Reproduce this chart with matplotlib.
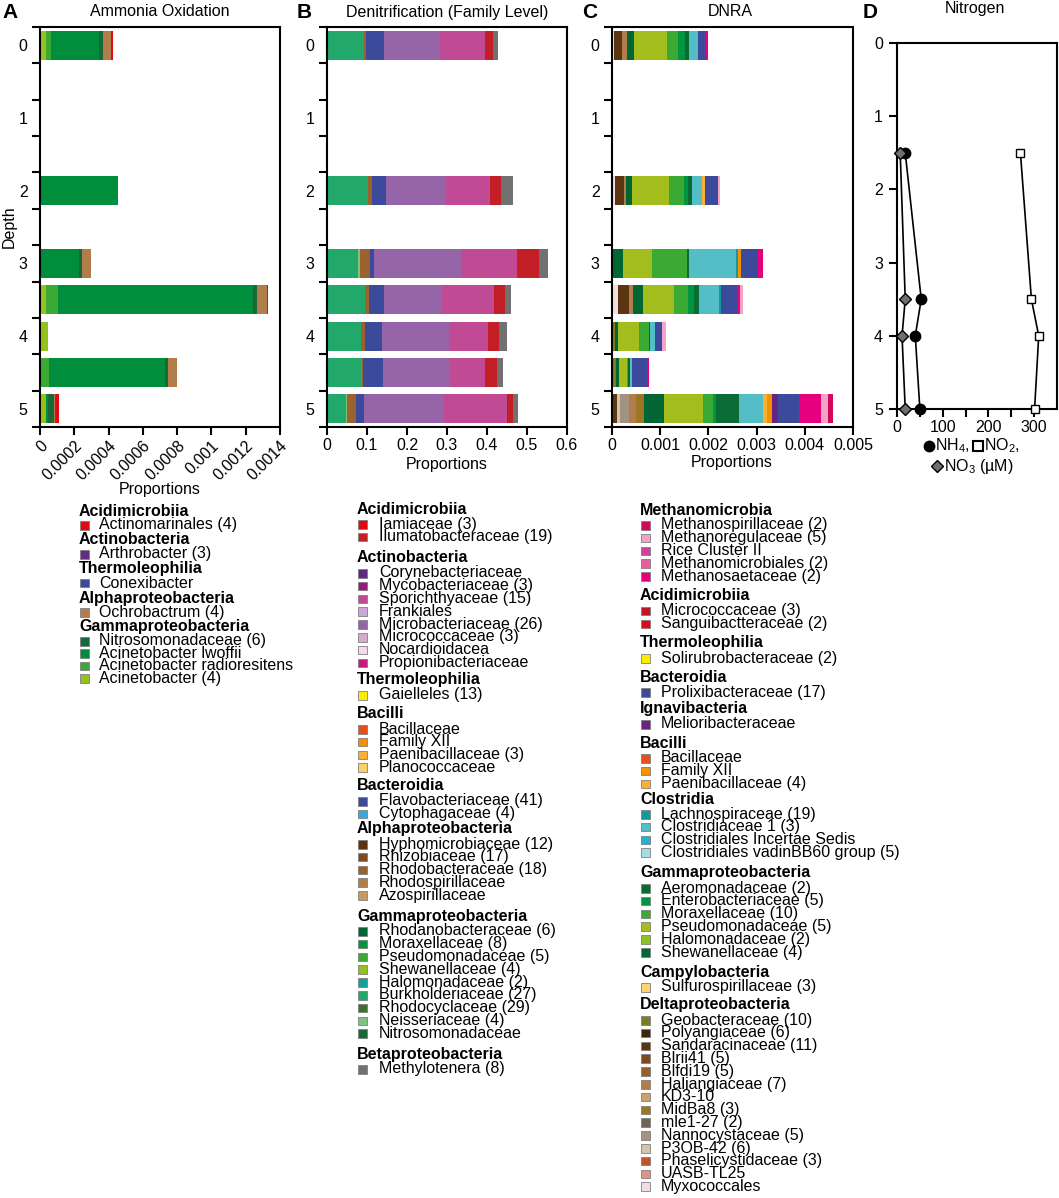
import numpy as np
import matplotlib
matplotlib.use("Agg")
import matplotlib.pyplot as plt
from matplotlib.patches import Rectangle
from matplotlib.lines import Line2D

plt.rcParams['font.family'] = ['Liberation Sans', 'DejaVu Sans']
plt.rcParams['font.size'] = 11.5
plt.rcParams['mathtext.fontset'] = 'custom'
plt.rcParams['mathtext.rm'] = 'Liberation Sans'
plt.rcParams['mathtext.default'] = 'regular'

W, H = 1059, 1198

# ---------------- data ----------------
depths = [0, 2, 3, 3.5, 4, 4.5, 5]

# A - ammonia oxidation, stacking order left -> right
amo = {
    "Acinetobacter (4)":           [3.3e-5, 0, 0, 3.3e-5, 4.5e-5, 0, 3.5e-5],
    "Acinetobacter radioresitens": [2.9e-5, 0, 0, 7.0e-5, 0, 5.2e-5, 0],
    "Acinetobacter lwoffii":       [2.84e-4, 4.53e-4, 2.27e-4, 1.137e-3, 0, 6.8e-4, 1.0e-5],
    "Nitrosomonadaceae (6)":       [2.1e-5, 0, 1.75e-5, 2.7e-5, 0, 1.6e-5, 3.7e-5],
    "Ochrobactrum (4)":            [4.9e-5, 0, 5.25e-5, 5.8e-5, 0, 4.9e-5, 0.8e-5],
    "Conexibacter":                [0, 0, 0, 0, 0, 0.4e-5, 0.6e-5],
    "Actinomarinales (4)":         [0.8e-5, 0, 0, 0.6e-5, 0, 0, 1.4e-5],
}

# B - denitrification
denit = {
    "Burkholderiaceae (27)":   [0.0917, 0.1025, 0.0775, 0.0958, 0.0858, 0.0875, 0.048],
    "Neisseriaceae (4)":       [0, 0, 0.004, 0, 0, 0, 0.003],
    "Rhodobacteraceae (18)":   [0.0067, 0.01, 0.025, 0.0083, 0.0083, 0.0025, 0.021],
    "Flavobacteriaceae (41)":  [0.044, 0.034, 0.01, 0.0375, 0.0425, 0.05, 0.021],
    "Microbacteriaceae (26)":  [0.141, 0.15, 0.2175, 0.145, 0.168, 0.1675, 0.199],
    "Sporichthyaceae (15)":    [0.1125, 0.11, 0.1417, 0.13, 0.098, 0.0875, 0.159],
    "Mycobacteriaceae (3)":    [0, 0, 0, 0, 0, 0, 0.002],
    "Ilumatobacteraceae (19)": [0.02, 0.0275, 0.0533, 0.0275, 0.0267, 0.029, 0.0117],
    "Methylotenera (8)":       [0.0117, 0.031, 0.024, 0.0167, 0.02, 0.0167, 0.0117],
}

# C - DNRA
dnra = {
    "Myxococcales":            [0.5e-4, 0.7e-4, 0, 1.2e-4, 0, 0, 0],
    "Sandaracinaceae (11)":    [1.6e-4, 1.8e-4, 0, 2.4e-4, 0, 0, 1.04e-4],
    "P3OB-42 (6)":             [0, 0, 0, 0, 0, 0, 0.55e-4],
    "Nannocystaceae (5)":      [0, 0, 0, 0, 0, 0, 1.94e-4],
    "Haliangiaceae (7)":       [0.97e-4, 0.5e-4, 0, 0.69e-4, 0, 0, 1.52e-4],
    "MidBa8 (3)":              [0, 0, 0, 0, 0, 0, 1.6e-4],
    "Geobacteraceae (10)":     [0, 0, 0, 0, 0.55e-4, 0.9e-4, 0],
    "Shewanellaceae (4)":      [1.46e-4, 1.25e-4, 2.29e-4, 2.2e-4, 0.69e-4, 0.49e-4, 4.09e-4],
    "Pseudomonadaceae (5)":    [6.93e-4, 7.6e-4, 6.1e-4, 6.45e-4, 4.3e-4, 1.73e-4, 8.18e-4],
    "Moraxellaceae (10)":      [2.2e-4, 3.05e-4, 7.07e-4, 2.9e-4, 2.08e-4, 0.2e-4, 2.08e-4],
    "Enterobacteriaceae (5)":  [1.4e-4, 0.9e-4, 0, 1.25e-4, 0, 0, 0.49e-4],
    "Aeromonadaceae (2)":      [0.83e-4, 0.9e-4, 0.55e-4, 0.9e-4, 0.2e-4, 0.42e-4, 4.92e-4],
    "Clostridiaceae 1 (3)":    [1.8e-4, 2.0e-4, 9.7e-4, 4.16e-4, 1.04e-4, 0.49e-4, 4.99e-4],
    "Lachnospiraceae (19)":    [0, 0, 0.42e-4, 0.49e-4, 0, 0, 0],
    "Paenibacillaceae (4)":    [0, 0.5e-4, 0, 0, 0, 0, 0.69e-4],
    "Family XII":              [0.2e-4, 0, 0.55e-4, 0, 0, 0, 1.04e-4],
    "Melioribacteraceae":      [0, 0, 0, 0, 0, 0, 1.25e-4],
    "Prolixibacteraceae (17)": [1.66e-4, 2.7e-4, 3.53e-4, 3.33e-4, 1.52e-4, 3.12e-4, 4.44e-4],
    "Methanosaetaceae (2)":    [0.28e-4, 0, 1.04e-4, 0.62e-4, 0, 0.35e-4, 4.64e-4],
    "Methanoregulaceae (5)":   [0, 0.5e-4, 0, 0.69e-4, 0.9e-4, 0, 1.32e-4],
    "Methanospirillaceae (2)": [0, 0, 0, 0, 0, 0, 0.97e-4],
}

# D - nitrogen profiles (uM)
n_depth = [1.5, 3.5, 4, 5]
nh4 = [18, 53, 40, 50]
no2 = [270, 294, 310, 301]
no3 = [7, 18, 11, 18]

# legend groups
groups_a = [
    ("Acidimicrobiia", ["Actinomarinales (4)"]),
    ("Actinobacteria", ["Arthrobacter (3)"]),
    ("Thermoleophilia", ["Conexibacter"]),
    ("Alphaproteobacteria", ["Ochrobactrum (4)"]),
    ("Gammaproteobacteria", ["Nitrosomonadaceae (6)", "Acinetobacter lwoffii",
                             "Acinetobacter radioresitens", "Acinetobacter (4)"]),
]
groups_b = [
    ("Acidimicrobiia", ["Iamiaceae (3)", "Ilumatobacteraceae (19)"]),
    ("Actinobacteria", ["Corynebacteriaceae", "Mycobacteriaceae (3)", "Sporichthyaceae (15)",
                        "Frankiales", "Microbacteriaceae (26)", "Micrococcaceae (3)",
                        "Nocardioidacea", "Propionibacteriaceae"]),
    ("Thermoleophilia", ["Gaielleles (13)"]),
    ("Bacilli", ["Bacillaceae", "Family XII", "Paenibacillaceae (3)", "Planococcaceae"]),
    ("Bacteroidia", ["Flavobacteriaceae (41)", "Cytophagaceae (4)"]),
    ("Alphaproteobacteria", ["Hyphomicrobiaceae (12)", "Rhizobiaceae (17)", "Rhodobacteraceae (18)",
                             "Rhodospirillaceae", "Azospirillaceae"]),
    ("Gammaproteobacteria", ["Rhodanobacteraceae (6)", "Moraxellaceae (8)", "Pseudomonadaceae (5)",
                             "Shewanellaceae (4)", "Halomonadaceae (2)", "Burkholderiaceae (27)",
                             "Rhodocyclaceae (29)", "Neisseriaceae (4)", "Nitrosomonadaceae"]),
    ("Betaproteobacteria", ["Methylotenera (8)"]),
]
groups_c = [
    ("Methanomicrobia", ["Methanospirillaceae (2)", "Methanoregulaceae (5)", "Rice Cluster II",
                         "Methanomicrobiales (2)", "Methanosaetaceae (2)"]),
    ("Acidimicrobiia", ["Micrococcaceae (3)", "Sanguibactteraceae (2)"]),
    ("Thermoleophilia", ["Solirubrobacteraceae (2)"]),
    ("Bacteroidia", ["Prolixibacteraceae (17)"]),
    ("Ignavibacteria", ["Melioribacteraceae"]),
    ("Bacilli", ["Bacillaceae", "Family XII", "Paenibacillaceae (4)"]),
    ("Clostridia", ["Lachnospiraceae (19)", "Clostridiaceae 1 (3)", "Clostridiales Incertae Sedis",
                    "Clostridiales vadinBB60 group (5)"]),
    ("Gammaproteobacteria", ["Aeromonadaceae (2)", "Enterobacteriaceae (5)", "Moraxellaceae (10)",
                             "Pseudomonadaceae (5)", "Halomonadaceae (2)", "Shewanellaceae (4)"]),
    ("Campylobacteria", ["Sulfurospirillaceae (3)"]),
    ("Deltaproteobacteria", ["Geobacteraceae (10)", "Polyangiaceae (6)", "Sandaracinaceae (11)",
                             "Blrii41 (5)", "Blfdi19 (5)", "Haliangiaceae (7)", "KD3-10",
                             "MidBa8 (3)", "mle1-27 (2)", "Nannocystaceae (5)", "P3OB-42 (6)",
                             "Phaselicystidaceae (3)", "UASB-TL25", "Myxococcales"]),
]

# ---------------- colours ----------------
colors_a = {
    "Actinomarinales (4)": "#e30613", "Arthrobacter (3)": "#672a85",
    "Conexibacter": "#3b4a9b", "Ochrobactrum (4)": "#b07d4b",
    "Nitrosomonadaceae (6)": "#17693a", "Acinetobacter lwoffii": "#008d3c",
    "Acinetobacter radioresitens": "#3aaa35", "Acinetobacter (4)": "#95c11f",
}
colors_b = {
    "Iamiaceae (3)": "#e30613", "Ilumatobacteraceae (19)": "#c41e26",
    "Corynebacteriaceae": "#5b2a86", "Mycobacteriaceae (3)": "#951b81",
    "Sporichthyaceae (15)": "#c04a93", "Frankiales": "#c9a8d6",
    "Microbacteriaceae (26)": "#9565a8", "Micrococcaceae (3)": "#dba8d0",
    "Nocardioidacea": "#f6d9ea", "Propionibacteriaceae": "#c8197d",
    "Gaielleles (13)": "#ffed00", "Bacillaceae": "#e84e1b", "Family XII": "#f39200",
    "Paenibacillaceae (3)": "#fbb034", "Planococcaceae": "#fdd06a",
    "Flavobacteriaceae (41)": "#3b4a9b", "Cytophagaceae (4)": "#36a9e1",
    "Hyphomicrobiaceae (12)": "#5c3310", "Rhizobiaceae (17)": "#7f4a1e",
    "Rhodobacteraceae (18)": "#9a622c", "Rhodospirillaceae": "#b07d4b",
    "Azospirillaceae": "#c89a64", "Rhodanobacteraceae (6)": "#006633",
    "Moraxellaceae (8)": "#009640", "Pseudomonadaceae (5)": "#3aaa35",
    "Shewanellaceae (4)": "#95c11f", "Halomonadaceae (2)": "#13a19a",
    "Burkholderiaceae (27)": "#22a86a", "Rhodocyclaceae (29)": "#3e6f2e",
    "Neisseriaceae (4)": "#7fc37f", "Nitrosomonadaceae": "#17693a",
    "Methylotenera (8)": "#717171",
}
colors_c = {
    "Methanospirillaceae (2)": "#d2095a", "Methanoregulaceae (5)": "#f4a3c7",
    "Rice Cluster II": "#d2429a", "Methanomicrobiales (2)": "#e85d9b",
    "Methanosaetaceae (2)": "#e6007e", "Micrococcaceae (3)": "#be1622",
    "Sanguibactteraceae (2)": "#e30613", "Solirubrobacteraceae (2)": "#ffed00",
    "Prolixibacteraceae (17)": "#3b4a9b", "Melioribacteraceae": "#662483",
    "Bacillaceae": "#e84e1b", "Family XII": "#f39200", "Paenibacillaceae (4)": "#fbb034",
    "Lachnospiraceae (19)": "#16979b", "Clostridiaceae 1 (3)": "#54bec6",
    "Clostridiales Incertae Sedis": "#1ab5d0", "Clostridiales vadinBB60 group (5)": "#a8dae0",
    "Aeromonadaceae (2)": "#0b6b35", "Enterobacteriaceae (5)": "#009640",
    "Moraxellaceae (10)": "#3aaa35", "Pseudomonadaceae (5)": "#a3bd1c",
    "Halomonadaceae (2)": "#8dc21f", "Shewanellaceae (4)": "#006633",
    "Sulfurospirillaceae (3)": "#fdd470", "Geobacteraceae (10)": "#7e7b25",
    "Polyangiaceae (6)": "#3f2412", "Sandaracinaceae (11)": "#5c3513",
    "Blrii41 (5)": "#7f4a1e", "Blfdi19 (5)": "#955f2c", "Haliangiaceae (7)": "#b07d4b",
    "KD3-10": "#cfa06b", "MidBa8 (3)": "#9c7624", "mle1-27 (2)": "#716355",
    "Nannocystaceae (5)": "#a39281", "P3OB-42 (6)": "#d5c4aa",
    "Phaselicystidaceae (3)": "#c3512d", "UASB-TL25": "#df9387", "Myxococcales": "#f1dfe0",
}

fig = plt.figure(figsize=(W / 100, H / 100), dpi=100)


def px_axes(left, top, right, bottom):
    return fig.add_axes([left / W, 1 - bottom / H, (right - left) / W, (bottom - top) / H])


def ftext(x, y, s, **kw):
    kw.setdefault('va', 'center')
    return fig.text(x / W, 1 - y / H, s, **kw)


def bar_panel(ax, data, colors, xmax, xticks, xlabels):
    left = np.zeros(len(depths))
    for name, vals in data.items():
        ax.barh(depths, vals, left=left, height=0.4, color=colors[name], linewidth=0)
        left += np.array(vals)
    ax.set_xlim(0, xmax)
    ax.set_ylim(5.25, -0.25)
    ax.set_yticks(range(6))
    ax.set_yticks(np.arange(-0.25, 5.3, 0.5), minor=True)
    ax.tick_params(axis='y', which='major', length=0, pad=9)
    ax.tick_params(axis='y', which='minor', length=6, width=1.5)
    ax.set_xticks(xticks)
    ax.set_xticklabels(xlabels)
    ax.tick_params(axis='x', length=6, width=1.5, pad=2)
    for s in ax.spines.values():
        s.set_linewidth(1.5)


# A
axA = px_axes(40, 27, 280, 427)
bar_panel(axA, amo, colors_a, 0.0014, np.arange(0, 0.00141, 0.0002),
          ["0", "0.0002", "0.0004", "0.0006", "0.0008", "0.001", "0.0012", "0.0014"])
for lab in axA.get_xticklabels():
    lab.set_rotation(45)
    lab.set_ha('right')
    lab.set_va('top')
    lab.set_rotation_mode('anchor')

# B
axB = px_axes(327, 27, 567, 427)
bar_panel(axB, denit, colors_b, 0.6, np.arange(0, 0.61, 0.1),
          ["0", "0.1", "0.2", "0.3", "0.4", "0.5", "0.6"])

# C
axC = px_axes(612, 27, 853, 427)
bar_panel(axC, dnra, colors_c, 0.005, np.arange(0, 0.00501, 0.001),
          ["0", "0.001", "0.002", "0.003", "0.004", "0.005"])

# D
axD = px_axes(897, 43, 1057, 409)
axD.plot(nh4, n_depth, color='black', lw=1.2, marker='o', ms=7.5, mfc='black', mec='black', zorder=3)
axD.plot(no3, n_depth, color='black', lw=1.2, marker='D', ms=6, mfc='#6f6f6e', mec='black', zorder=4)
axD.plot(no2, n_depth, color='black', lw=1.2, marker='s', ms=6, mfc='white', mec='black', zorder=3)
axD.set_xlim(0, 350)
axD.set_ylim(5, 0)
axD.set_yticks(range(6))
axD.set_xticks([0, 100, 200, 300])
axD.set_xticks([50, 150, 250], minor=True)
axD.tick_params(axis='both', which='both', length=6, width=1.5, pad=2)
axD.tick_params(axis='y', pad=4)
for s in axD.spines.values():
    s.set_linewidth(1.5)
for ln in axD.lines:
    ln.set_clip_on(False)

# titles, panel letters, axis labels
for x, letter in [(2, "A"), (297, "B"), (582, "C"), (863, "D")]:
    ftext(x, 13, letter, weight='bold', fontsize=15, ha='left')
ftext(160, 12, "Ammonia Oxidation", ha='center')
ftext(447, 12, "Denitrification (Family Level)", ha='center')
ftext(730, 12, "DNRA", ha='center')
ftext(975, 8, "Nitrogen", ha='center')
ftext(160, 490, "Proportions", ha='center')
ftext(447, 465, "Proportions", ha='center')
ftext(732, 463, "Proportions", ha='center')
ftext(9, 227, "Depth", ha='center', rotation=90)

# nitrogen axis label with marker symbols
fig.add_artist(Line2D([929 / W], [1 - 446 / H], marker='o', ms=7.5, color='black', transform=fig.transFigure))
ftext(935, 446, "NH$_4$,", ha='left')
fig.add_artist(Line2D([978 / W], [1 - 446 / H], marker='s', ms=6.5, mfc='white', mec='black', mew=1.5,
                      transform=fig.transFigure))
ftext(984, 446, "NO$_2$,", ha='left')
fig.add_artist(Line2D([937 / W], [1 - 466 / H], marker='D', ms=6.5, mfc='#6f6f6e', mec='black',
                      transform=fig.transFigure))
ftext(944, 466, "NO$_3$ (\u00b5M)", ha='left')


# legends
def draw_legend(groups, colors, header_ys, x_patch, x_text, first_dy, step):
    for (header, items), hy in zip(groups, header_ys):
        ftext(x_patch - 1, hy, header, weight='bold', ha='left')
        for k, name in enumerate(items):
            y = hy + first_dy + k * step
            fig.add_artist(Rectangle((x_patch / W, 1 - (y + 4.5) / H), 8.5 / W, 8.5 / H,
                                     transform=fig.transFigure, facecolor=colors[name],
                                     edgecolor='#808080', linewidth=0.6))
            ftext(x_text, y, name, ha='left')


draw_legend(groups_a, colors_a, [511, 540, 569, 598, 627], 80, 99, 14, 12.4)
draw_legend(groups_b, colors_b, [509, 558, 680, 714, 786, 829, 916, 1054], 358, 379, 15, 12.8)
draw_legend(groups_c, colors_c, [510, 596, 643, 677, 709, 743, 799, 873, 972, 1005], 641, 661, 15, 12.8)

fig.savefig("out.png", dpi=100)
